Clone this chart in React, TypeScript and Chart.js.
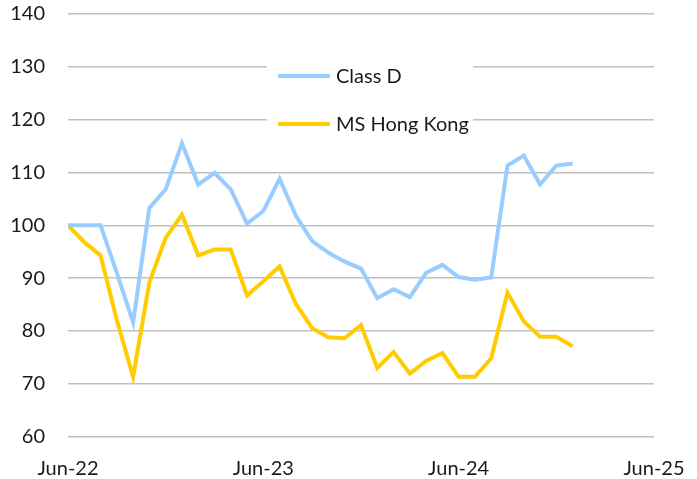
import React, { useEffect, useRef } from 'react';
import { Chart, registerables } from 'chart.js';

Chart.register(...registerables);

// Monthly observations (YYYY-MM)
const months = [
  '2022-06', '2022-07', '2022-08', '2022-09', '2022-10', '2022-11', '2022-12',
  '2023-01', '2023-02', '2023-03', '2023-04', '2023-05', '2023-06', '2023-07',
  '2023-08', '2023-09', '2023-10', '2023-11', '2023-12', '2024-01', '2024-02',
  '2024-03', '2024-04', '2024-05', '2024-06', '2024-07', '2024-08', '2024-09',
  '2024-10', '2024-11', '2024-12', '2025-01',
];

const classD = [
  100, 100, 100, 91, 81.6, 103.3, 106.8, 115.5, 107.7, 109.9, 106.8, 100.3,
  102.7, 108.8, 101.8, 97, 94.8, 93.1, 91.8, 86.2, 87.9, 86.4, 91.0, 92.5,
  90.2, 89.7, 90.1, 111.3, 113.2, 107.7, 111.3, 111.7,
];

const msHongKong = [
  100, 96.8, 94.3, 82, 71.3, 89.2, 97.6, 102.0, 94.3, 95.4, 95.4, 86.7,
  89.4, 92.2, 85.1, 80.5, 78.8, 78.6, 81.1, 73.0, 76.0, 71.9, 74.3, 75.8,
  71.3, 71.3, 74.8, 87.2, 81.8, 78.9, 78.9, 77.1,
];

const seriesLabels = ['Class D', 'MS Hong Kong'];
const seriesColors = ['#99CCFF', '#FFCC00'];

const xTickLabels = ['Jun-22', 'Jun-23', 'Jun-24', 'Jun-25'];
const xTickStepMonths = 12;
const yMin = 60;
const yMax = 140;
const yStep = 10;

const FONT = 'Lato, "Open Sans", sans-serif';

function monthIndex(m: string): number {
  const [y, mo] = m.split('-').map(Number);
  return (y - 2022) * 12 + (mo - 6);
}

const insetLegend = {
  id: 'insetLegend',
  beforeDatasetsDraw(chart: any) {
    const ctx = chart.ctx as CanvasRenderingContext2D;
    ctx.save();
    ctx.fillStyle = '#ffffff';
    ctx.fillRect(267, 40, 206, 106);
    chart.data.datasets.forEach((ds: any, i: number) => {
      const y = 76 + i * 48;
      ctx.strokeStyle = ds.borderColor;
      ctx.lineWidth = 4;
      ctx.beginPath();
      ctx.moveTo(278, y);
      ctx.lineTo(330, y);
      ctx.stroke();
      ctx.fillStyle = '#1a1a1a';
      ctx.font = `20px ${FONT}`;
      ctx.textBaseline = 'middle';
      ctx.textAlign = 'left';
      ctx.fillText(ds.label, 336, y + 1);
    });
    ctx.restore();
  },
};

export default function App() {
  const ref = useRef<HTMLCanvasElement | null>(null);

  useEffect(() => {
    if (!ref.current) return;
    const xs = months.map(monthIndex);
    const chart = new Chart(ref.current, {
      type: 'line',
      data: {
        datasets: [
          {
            label: seriesLabels[0],
            data: classD.map((v, i) => ({ x: xs[i], y: v })),
            borderColor: seriesColors[0],
            backgroundColor: seriesColors[0],
            borderWidth: 4,
            pointRadius: 0,
            tension: 0,
          },
          {
            label: seriesLabels[1],
            data: msHongKong.map((v, i) => ({ x: xs[i], y: v })),
            borderColor: seriesColors[1],
            backgroundColor: seriesColors[1],
            borderWidth: 4,
            pointRadius: 0,
            tension: 0,
          },
        ],
      },
      options: {
        responsive: false,
        animation: false,
        layout: { padding: { top: 14, right: 43, left: 0, bottom: 0 } },
        plugins: {
          legend: { display: false },
          tooltip: { enabled: false },
        },
        scales: {
          x: {
            type: 'linear',
            min: 0,
            max: xTickStepMonths * (xTickLabels.length - 1),
            grid: { display: false, drawTicks: false },
            border: { display: false },
            ticks: {
              stepSize: xTickStepMonths,
              padding: 20,
              maxRotation: 0,
              autoSkip: false,
              color: '#1a1a1a',
              font: { family: FONT, size: 20 },
              callback: (v: any) => xTickLabels[Math.round(Number(v) / xTickStepMonths)] ?? '',
            },
            afterFit: (s: any) => {
              s.height = 42.5;
              s.paddingLeft = 0;
              s.paddingRight = 0;
            },
          },
          y: {
            min: yMin,
            max: yMax,
            grid: { color: '#c0c0c0', lineWidth: 1.5, drawTicks: false },
            border: { display: false },
            ticks: {
              stepSize: yStep,
              padding: 23,
              color: '#1a1a1a',
              font: { family: FONT, size: 20 },
            },
            afterFit: (s: any) => {
              s.width = 68;
              s.paddingTop = 0;
              s.paddingBottom = 0;
            },
          },
        },
      },
      plugins: [insetLegend],
    });
    return () => chart.destroy();
  }, []);

  return (
    <div style={{ position: 'absolute', left: 0, top: 0, width: 697, height: 479, background: '#fff' }}>
      <canvas ref={ref} width={697} height={479} />
    </div>
  );
}
